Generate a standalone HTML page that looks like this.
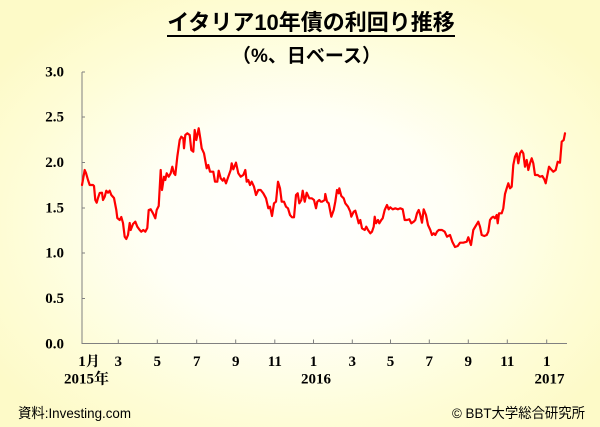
<!DOCTYPE html>
<html>
<head>
<meta charset="utf-8">
<style>
html,body{margin:0;padding:0;}
body{width:600px;height:427px;overflow:hidden;
background:radial-gradient(ellipse 62% 62% at 50% 52%, #ffffff 0%, #fffff6 40%, #fefdd8 75%, #fdfac8 100%);}
svg{display:block;}
.t{font-family:"Liberation Sans","Noto Sans CJK JP",sans-serif;font-weight:bold;fill:#000;}
.n{font-family:"Liberation Serif","Noto Serif CJK SC","Noto Sans CJK JP",serif;font-weight:bold;font-size:15px;fill:#000;}
.f{font-family:"Liberation Sans","Noto Sans CJK JP",sans-serif;font-size:14px;fill:#000;}
</style>
</head>
<body>
<svg width="600" height="427" viewBox="0 0 600 427" xmlns="http://www.w3.org/2000/svg">
  <!-- Title -->
  <text class="t" x="311" y="30" font-size="22" text-anchor="middle">イタリア10年債の利回り推移</text>
  <line x1="167" y1="36" x2="455" y2="36" stroke="#000" stroke-width="2"/>
  <text class="t" x="306.5" y="62" font-size="19" text-anchor="middle">（%、日ベース）</text>

  <!-- Axes -->
  <g stroke="#808080" stroke-width="1" fill="none">
    <line x1="82" y1="72" x2="82" y2="344"/>
    <line x1="82" y1="343.5" x2="567" y2="343.5"/>
    <!-- y ticks -->
    <line x1="82" y1="72" x2="85" y2="72"/>
    <line x1="82" y1="117" x2="85" y2="117"/>
    <line x1="82" y1="162.5" x2="85" y2="162.5"/>
    <line x1="82" y1="208" x2="85" y2="208"/>
    <line x1="82" y1="253" x2="85" y2="253"/>
    <line x1="82" y1="298.5" x2="85" y2="298.5"/>
    <!-- x ticks -->
    <line x1="118.3" y1="339.5" x2="118.3" y2="343.5"/>
    <line x1="157.3" y1="339.5" x2="157.3" y2="343.5"/>
    <line x1="196.7" y1="339.5" x2="196.7" y2="343.5"/>
    <line x1="235.7" y1="339.5" x2="235.7" y2="343.5"/>
    <line x1="274.8" y1="339.5" x2="274.8" y2="343.5"/>
    <line x1="313.5" y1="339.5" x2="313.5" y2="343.5"/>
    <line x1="352.3" y1="339.5" x2="352.3" y2="343.5"/>
    <line x1="390.5" y1="339.5" x2="390.5" y2="343.5"/>
    <line x1="429.3" y1="339.5" x2="429.3" y2="343.5"/>
    <line x1="468.3" y1="339.5" x2="468.3" y2="343.5"/>
    <line x1="507.3" y1="339.5" x2="507.3" y2="343.5"/>
    <line x1="546.7" y1="339.5" x2="546.7" y2="343.5"/>
  </g>

  <!-- y labels -->
  <g class="n" text-anchor="end">
    <text x="64" y="76.7">3.0</text>
    <text x="64" y="121.5">2.5</text>
    <text x="64" y="167">2.0</text>
    <text x="64" y="212.5">1.5</text>
    <text x="64" y="257.5">1.0</text>
    <text x="64" y="303">0.5</text>
    <text x="64" y="348.5">0.0</text>
  </g>

  <!-- x labels -->
  <g class="n" text-anchor="middle">
    <text x="78.3" y="366" text-anchor="start">1<tspan font-size="14">月</tspan></text>
    <text x="118.3" y="366">3</text>
    <text x="157.3" y="366">5</text>
    <text x="196.7" y="366">7</text>
    <text x="235.7" y="366">9</text>
    <text x="274.8" y="366">11</text>
    <text x="313.5" y="366">1</text>
    <text x="352.3" y="366">3</text>
    <text x="390.5" y="366">5</text>
    <text x="429.3" y="366">7</text>
    <text x="468.3" y="366">9</text>
    <text x="507.3" y="366">11</text>
    <text x="546.7" y="366">1</text>
    <text x="64" y="383.5" text-anchor="start">2015<tspan font-size="15">年</tspan></text>
    <text x="316" y="383.5">2016</text>
    <text x="549.5" y="383.5">2017</text>
  </g>

  <!-- series -->
  <polyline fill="none" stroke="#ff0000" stroke-width="2.2" stroke-linejoin="round" stroke-linecap="round"
  points="82,185 84.7,170 86,173 88,180 89.7,185 93,185 94,186 95.3,200 96.7,202.7 98,198 99.7,193 102,192.7 103,200 104.7,196.7 106.3,190.7 108,192.7 109.7,190.7 111.3,195 114,198 116.3,210 117.3,218 119.7,220 121.3,217 123,223 124.7,236.7 126.3,239 128,235 129.7,223 130.7,230 133,224 135.3,221.7 137.3,226.7 139.7,230 141.3,231.7 143.3,230 145.3,231.7 147.3,228 148.7,210 150.7,209.3 153,213.3 155.3,218.3 156.7,210 158.7,206 160.7,170 162,190 164,176.7 165.3,180 166.7,173.3 168.7,176.7 170.7,173.3 172.3,166.7 174,173.3 175.3,175 177.3,156.7 179.7,140 181.3,136.7 183.3,138.3 184,148.3 185.3,135 187.3,133.3 189.7,135 191.3,150 193.3,151.7 194.7,130 196.3,140 198.7,128.3 200.3,138.3 201.7,148.3 204,153.3 206.7,168.3 208.3,165 210,171.7 213.3,171.7 215,181.7 217.3,181.7 218.7,170.7 220.7,178.3 222.7,180.7 224,178.3 226,183.3 228.3,176.7 230.7,170 231.7,163.3 233.3,169.3 236,162.7 238.3,173.3 240.7,176.7 243.3,175 245.3,170 246.7,181.7 248.3,180 250,185 251.7,181.7 254,186.7 256,195 258.3,190 260.7,190 263.3,193.3 266,198.3 268.3,208.3 270,206.7 272,216 274,203.3 276,201.7 278,181.7 280,188.3 281.7,201.7 284,201.7 286,206.7 288,208.3 290,215 292,217.3 294,217.3 296,195 297.7,193.3 299.3,203.3 301.3,200 302.7,190.7 304.7,201.7 306.7,192.7 309.3,198.3 311.7,198.3 314,200 316,208.3 317.3,201.7 319.3,200 320.7,201.7 322,201.7 324.7,200 325.3,194 327,201.7 328.7,203.3 331.3,216.7 333.7,210 335.3,201.7 337,190 338.7,193.3 339.3,188.3 341.3,196 343.7,198.3 345.3,203.3 348,206.7 350.3,211.7 351.3,216.7 353.7,211.7 355.3,210.7 357,216.7 358.7,223.3 360.3,220 362,228.3 364.7,230 366.3,226.7 368,230 370.3,233.3 372,231.7 373.7,226.7 374.7,216.7 376,223.3 378,220 379.3,223.3 381.3,220 382.7,218.3 384.7,210 387,205 388.7,209.3 390.3,207.3 392.7,209.3 395.3,208.3 398,209.3 400.3,208.3 402.7,209.3 404.7,220 407,220 409.3,219.3 411.3,223.3 413.7,221.7 415.3,220 417,213.3 418.7,210 420.3,215 422,222.7 423.7,209.3 426,215 428,225 430.3,230 432,235 433.7,233.3 435.3,235 437,231.7 438.7,230 442,230 444.7,231.7 447,236.7 450,235 452.3,241.7 455,247 457.7,246 460,242.7 463.3,242.7 466.7,241.7 468.3,237.3 471,245 473.3,230 475.7,226 478.3,221.7 480,226.7 481.7,235 484.3,236 486.7,235 488.3,231.7 490,220 491.7,217.7 493.3,216.7 495,218.3 496.7,215 497.7,223.3 499,213.3 501.7,213.3 503.3,208.3 505,194 506.7,188.3 508.3,183.3 510,188.3 511.7,186.7 513.3,165 515,156.7 516.7,153.3 518.3,163.3 520,153.3 521.7,150.7 523.3,153.3 525,166.7 526.7,160 528.3,170 530,163.3 531.7,158.3 533.3,163.3 535,175 537.7,175 540,176.7 542.3,176 544.3,179.3 545.7,183.3 547.7,173.3 549,166.7 551,169.3 553.3,171.7 555.7,170 557.7,161.7 560,162.7 561.7,141.7 563.7,140 565,133.3"/>

  <!-- footer -->
  <text class="f" x="18" y="418" textLength="113" lengthAdjust="spacingAndGlyphs">資料:Investing.com</text>
  <text class="f" x="452" y="418" textLength="133" lengthAdjust="spacingAndGlyphs">© BBT大学総合研究所</text>
</svg>
</body>
</html>
